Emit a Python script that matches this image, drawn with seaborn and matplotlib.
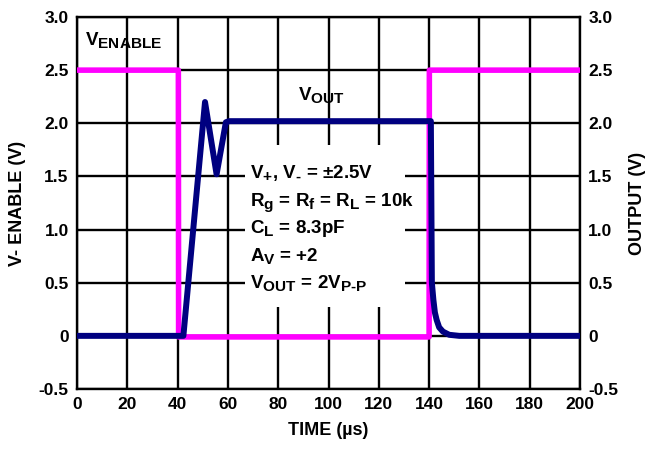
import matplotlib
matplotlib.use("Agg")
import matplotlib.pyplot as plt
import matplotlib._mathtext as mathtext_internals
from matplotlib.patches import Rectangle
import seaborn as sns
import pandas as pd

# Enable pulse (V) versus time (µs)
t_enable = [0.0, 40.3, 40.4, 140.0, 140.1, 200.0]
v_enable = [2.5, 2.5, -0.01, -0.01, 2.5, 2.5]

# Output response (V) versus time (µs)
t_out = [0.0, 42.3, 50.9, 55.5, 59.2, 60.5, 140.7, 141.1, 141.7, 142.3,
         143.0, 144.0, 145.5, 148.0, 152.0, 200.0]
v_out = [0.0, 0.0, 2.20, 1.52, 2.01, 2.02, 2.02, 0.50, 0.34, 0.22,
         0.15, 0.08, 0.04, 0.01, 0.0, 0.0]

x_ticks = [0, 20, 40, 60, 80, 100, 120, 140, 160, 180, 200]
y_ticks = [-0.5, 0.0, 0.5, 1.0, 1.5, 2.0, 2.5, 3.0]
y_tick_labels = ["-0.5", "0", "0.5", "1.0", "1.5", "2.0", "2.5", "3.0"]

conditions = [
    r"$\mathbf{V_{+}}$, $\mathbf{V_{\text{-}}}$ = ±2.5V",
    r"$\mathbf{R_{g}}$ = $\mathbf{R_{f}}$ = $\mathbf{R_{L}}$ = 10k",
    r"$\mathbf{C_{L}}$ = 8.3pF",
    r"$\mathbf{A_{V}}$ = +2",
    r"$\mathbf{V_{OUT}}$ = 2$\mathbf{V_{P\text{-}P}}$",
]

sns.set_theme(style="white")
plt.rcParams["font.family"] = ["Liberation Sans", "DejaVu Sans"]
plt.rcParams["font.weight"] = "bold"
plt.rcParams["text.color"] = "black"
plt.rcParams["axes.labelcolor"] = "black"
plt.rcParams["mathtext.fontset"] = "custom"
plt.rcParams["mathtext.rm"] = "Liberation Sans:bold"
plt.rcParams["mathtext.it"] = "Liberation Sans:bold"
plt.rcParams["mathtext.bf"] = "Liberation Sans:bold"
plt.rcParams["mathtext.default"] = "bf"
# larger subscripts, as on a datasheet
mathtext_internals.SHRINK_FACTOR = 0.82

TICK_FS = 12.5
LABEL_FS = 13
NOTE_FS = 13.5

fig = plt.figure(figsize=(6.52, 4.53), dpi=100)
ax = fig.add_axes([77 / 652, 1 - 389 / 453, 503 / 652, 372 / 453])

df_en = pd.DataFrame({"t": t_enable, "v": v_enable})
df_out = pd.DataFrame({"t": t_out, "v": v_out})

sns.lineplot(data=df_en, x="t", y="v", ax=ax, color="#FF00FF", lw=4.0,
             estimator=None, sort=False, zorder=3)
sns.lineplot(data=df_out, x="t", y="v", ax=ax, color="#000080", lw=4.3,
             estimator=None, sort=False, zorder=4)

ax.set_xlim(0, 200)
ax.set_ylim(-0.5, 3.0)
ax.set_xticks(x_ticks)
ax.set_xticklabels([str(v) for v in x_ticks])
ax.set_yticks(y_ticks)
ax.set_yticklabels(y_tick_labels)
ax.grid(True, color="black", lw=1.7)
ax.set_axisbelow(True)
for s in ax.spines.values():
    s.set_color("black")
    s.set_linewidth(1.7)
ax.tick_params(axis="both", length=0, labelsize=TICK_FS, colors="black")
ax.tick_params(axis="y", pad=6)
ax.tick_params(axis="x", pad=6)
for lab in ax.get_xticklabels() + ax.get_yticklabels():
    lab.set_fontweight("bold")

ax.set_xlabel("TIME (µs)", fontsize=LABEL_FS, fontweight="bold",
              color="black", labelpad=7)
ax.set_ylabel("V- ENABLE (V)", fontsize=LABEL_FS, fontweight="bold",
              color="black", labelpad=9)

ax2 = ax.twinx()
ax2.set_ylim(-0.5, 3.0)
ax2.set_yticks(y_ticks)
ax2.set_yticklabels(y_tick_labels)
ax2.tick_params(axis="y", length=0, labelsize=TICK_FS, pad=6, colors="black")
for lab in ax2.get_yticklabels():
    lab.set_fontweight("bold")
for s in ax2.spines.values():
    s.set_visible(False)
ax2.set_ylabel("OUTPUT (V)", fontsize=LABEL_FS, fontweight="bold",
               color="black", labelpad=8)

# Blank panel behind the test conditions
ax.add_patch(Rectangle((66.8, 0.27), 63.6, 1.53, facecolor="white",
                       edgecolor="none", zorder=1))

y0 = 1.485
for i, line in enumerate(conditions):
    ax.text(68.8, y0 - i * 0.259, line, fontsize=NOTE_FS, fontweight="bold",
            ha="left", va="baseline", color="black", zorder=5)

ax.text(3.2, 2.737, r"$\mathbf{V_{ENABLE}}$", fontsize=NOTE_FS, ha="left",
        va="baseline", color="black", zorder=5)
ax.text(87.9, 2.219, r"$\mathbf{V_{OUT}}$", fontsize=NOTE_FS, ha="left",
        va="baseline", color="black", zorder=5)

fig.savefig("out.png", dpi=100)
